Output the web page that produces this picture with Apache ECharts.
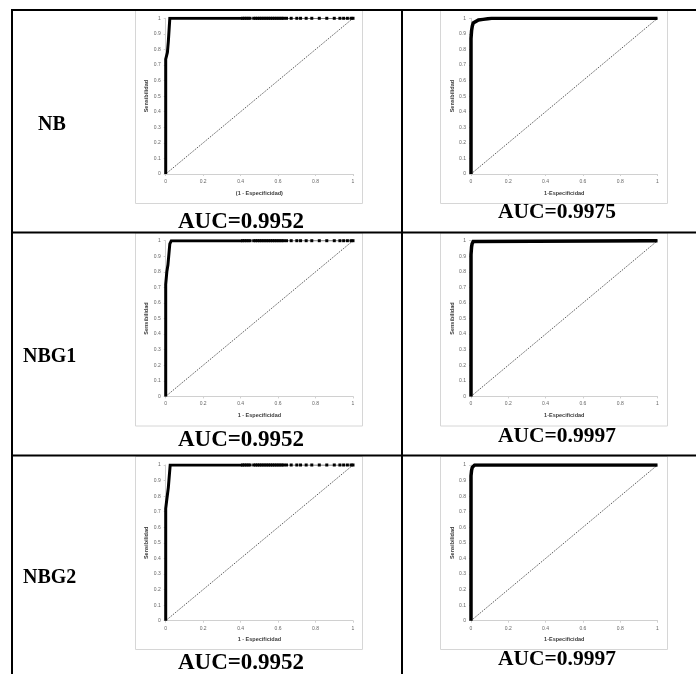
<!DOCTYPE html>
<html>
<head>
<meta charset="utf-8">
<script src="https://cdn.jsdelivr.net/npm/echarts@6/dist/echarts.min.js"></script>
<style>
  html, body { margin: 0; padding: 0; background: #fff; }
  #chart { width: 696px; height: 674px; }
</style>
</head>
<body>
<div id="chart"></div>
<script>
// ---- text ----
const rowLabels = ['NB', 'NBG1', 'NBG2'];
const leftXTitles = ['(1 - Especificidad)', '1 - Especificidad', '1 - Especificidad'];
const rightXTitle = '1-Especificidad';
const yTitle = 'Sensibilidad';
const aucLeft = ['AUC=0.9952', 'AUC=0.9952', 'AUC=0.9952'];
const aucRight = ['AUC=0.9975', 'AUC=0.9997', 'AUC=0.9997'];

// ---- tick values ----
const xTicks = [0, 0.2, 0.4, 0.6, 0.8, 1];
const yTicks = [0, 0.1, 0.2, 0.3, 0.4, 0.5, 0.6, 0.7, 0.8, 0.9, 1];

// ---- chance line ----
const diagFpr = [0, 1];
const diagTpr = [0, 1];

// ---- left column ROC curves: stepped, densely sampled part ----
const nbFpr   = [0, 0, 0.009, 0.009, 0.014, 0.014, 0.022, 0.022, 0.41];
const nbTpr   = [0, 0.737, 0.737, 0.78, 0.78, 0.85, 0.85, 1, 1];
const nbg1Fpr = [0, 0, 0.006, 0.006, 0.012, 0.012, 0.022, 0.022, 0.03, 0.41];
const nbg1Tpr = [0, 0.72, 0.72, 0.80, 0.80, 0.845, 0.845, 0.98, 1, 1];
const nbg2Fpr = [0, 0, 0.006, 0.006, 0.014, 0.014, 0.024, 0.024, 0.41];
const nbg2Tpr = [0, 0.72, 0.72, 0.78, 0.78, 0.855, 0.855, 1, 1];

// ---- left column ROC curves: sparse thresholds at sensitivity 1 ----
const tailFpr = [0.41, 0.42, 0.43, 0.44, 0.45, 0.47, 0.48, 0.49, 0.50, 0.51, 0.52,
                 0.53, 0.54, 0.55, 0.56, 0.57, 0.58, 0.59, 0.60, 0.61, 0.62, 0.63,
                 0.645, 0.67, 0.70, 0.72, 0.75, 0.78, 0.82, 0.86, 0.90, 0.93, 0.95,
                 0.97, 0.99, 1];
const tailTpr = tailFpr.map(() => 1);

// ---- right column ROC curves ----
const nbRFpr   = [0, 0, 0.003, 0.007, 0.012, 0.021, 0.04, 0.065, 0.09, 0.11, 1];
const nbRTpr   = [0, 0.87, 0.92, 0.95, 0.97, 0.979, 0.989, 0.993, 0.997, 1, 1];
const nbg1RFpr = [0, 0, 0.003, 0.006, 0.012, 0.02, 1];
const nbg1RTpr = [0, 0.91, 0.96, 0.98, 0.995, 1, 1];
const nbg2RFpr = [0, 0, 0.003, 0.007, 0.013, 0.02, 1];
const nbg2RTpr = [0, 0.93, 0.965, 0.985, 0.997, 1, 1];

const leftCurves  = [[nbFpr, nbTpr], [nbg1Fpr, nbg1Tpr], [nbg2Fpr, nbg2Tpr]];
const rightCurves = [[nbRFpr, nbRTpr], [nbg1RFpr, nbg1RTpr], [nbg2RFpr, nbg2RTpr]];

const zip = (xs, ys) => xs.map((x, i) => [x, ys[i]]);

// ---- layout ----
const W = 696;
const rowTops = [18.3, 240.7, 465];     // plot-area top per row
const plotH = 155.7;
const cols = [{ left: 165.7, width: 187.3 }, { left: 471, width: 186.5 }];
const boxTops = [10.5, 233, 456.5];
const boxH = 193;
const boxX = [135, 440];
const boxW = 227;
const tableLines = [10, 232.5, 455.5];
const labelPos = [[38, 125], [23, 357], [23, 578]];
const aucLeftY = [222, 440, 663];
const aucRightY = [212, 436, 659];
const aucX = [241, 557];

const tickFont = { fontSize: 5, color: '#666', fontFamily: 'Liberation Sans, Arial, sans-serif' };
const nameFont = { fontSize: 5.5, fontWeight: 'bold', color: '#3a3a3a', fontFamily: 'Liberation Sans, Arial, sans-serif' };

const grids = [], xAxes = [], yAxes = [], series = [];
for (let r = 0; r < 3; r++) {
  for (let c = 0; c < 2; c++) {
    const idx = grids.length;
    grids.push({ left: cols[c].left, top: rowTops[r], width: cols[c].width, height: plotH, outerBoundsMode: 'none' });
    xAxes.push({
      gridIndex: idx, type: 'value', min: xTicks[0], max: xTicks[xTicks.length - 1],
      interval: xTicks[1] - xTicks[0],
      name: c === 0 ? leftXTitles[r] : rightXTitle, nameLocation: 'middle', nameGap: 16,
      nameTextStyle: nameFont,
      axisLine: { show: true, onZero: false, lineStyle: { color: '#d0d0d0', width: 1 } },
      axisTick: { show: true, length: 2, lineStyle: { color: '#d0d0d0' } },
      axisLabel: Object.assign({ margin: 5 }, tickFont),
      splitLine: { show: false }
    });
    yAxes.push({
      gridIndex: idx, type: 'value', min: yTicks[0], max: yTicks[yTicks.length - 1],
      interval: yTicks[1] - yTicks[0],
      name: yTitle, nameLocation: 'middle', nameGap: c === 0 ? 15 : 14, nameRotate: 90,
      nameTextStyle: nameFont,
      axisLine: { show: true, onZero: false, lineStyle: { color: '#d0d0d0', width: 1 } },
      axisTick: { show: true, length: 2, lineStyle: { color: '#d0d0d0' } },
      axisLabel: Object.assign({ margin: 5 }, tickFont),
      splitLine: { show: false }
    });
    // chance diagonal
    series.push({
      type: 'line', xAxisIndex: idx, yAxisIndex: idx, data: zip(diagFpr, diagTpr),
      symbol: 'none', silent: true, z: 2,
      lineStyle: { color: '#4a4a4a', width: 1, type: [1.2, 1.2] }
    });
    const curve = c === 0 ? leftCurves[r] : rightCurves[r];
    series.push({
      type: 'line', xAxisIndex: idx, yAxisIndex: idx, data: zip(curve[0], curve[1]),
      symbol: 'none', silent: true, z: 3,
      lineStyle: { color: '#000', width: c === 0 ? 3 : 3.5, join: 'miter' }
    });
    if (c === 0) {
      series.push({
        type: 'line', xAxisIndex: idx, yAxisIndex: idx, data: zip(tailFpr, tailTpr),
        symbol: 'rect', symbolSize: 3, silent: true, z: 3,
        itemStyle: { color: '#000' },
        lineStyle: { color: '#333', width: 0.8 }
      });
    }
  }
}

// table rules and chart frames
const graphics = [];
tableLines.forEach(y => graphics.push({
  type: 'line', z: 10, shape: { x1: 11, y1: y, x2: W, y2: y },
  style: { stroke: '#000', lineWidth: 2 }
}));
[12, 402].forEach(x => graphics.push({
  type: 'line', z: 10, shape: { x1: x, y1: 9, x2: x, y2: 674 },
  style: { stroke: '#000', lineWidth: 2 }
}));
for (let r = 0; r < 3; r++) {
  for (let c = 0; c < 2; c++) {
    graphics.push({
      type: 'rect', z: -5,
      shape: { x: boxX[c] + 0.5, y: boxTops[r], width: boxW, height: boxH },
      style: { fill: '#fff', stroke: '#d6d6d6', lineWidth: 1 }
    });
  }
  graphics.push({
    type: 'text', z: 10, x: labelPos[r][0], y: labelPos[r][1],
    style: { text: rowLabels[r], fill: '#000', font: 'bold 20px "Liberation Serif", "Times New Roman", serif',
             textAlign: 'left', textVerticalAlign: 'middle', align: 'left', verticalAlign: 'middle' }
  });
  graphics.push({
    type: 'text', z: 10, x: aucX[0], y: aucLeftY[r],
    style: { text: aucLeft[r], fill: '#000', font: 'bold 23px "Liberation Serif", "Times New Roman", serif',
             textAlign: 'center', textVerticalAlign: 'middle', align: 'center', verticalAlign: 'middle' }
  });
  graphics.push({
    type: 'text', z: 10, x: aucX[1], y: aucRightY[r],
    style: { text: aucRight[r], fill: '#000', font: 'bold 21.5px "Liberation Serif", "Times New Roman", serif',
             textAlign: 'center', textVerticalAlign: 'middle', align: 'center', verticalAlign: 'middle' }
  });
}

const chart = echarts.init(document.getElementById('chart'), null, { renderer: 'canvas' });
chart.setOption({
  animation: false,
  backgroundColor: '#fff',
  grid: grids,
  xAxis: xAxes,
  yAxis: yAxes,
  series: series,
  graphic: { elements: graphics }
});
</script>
</body>
</html>
